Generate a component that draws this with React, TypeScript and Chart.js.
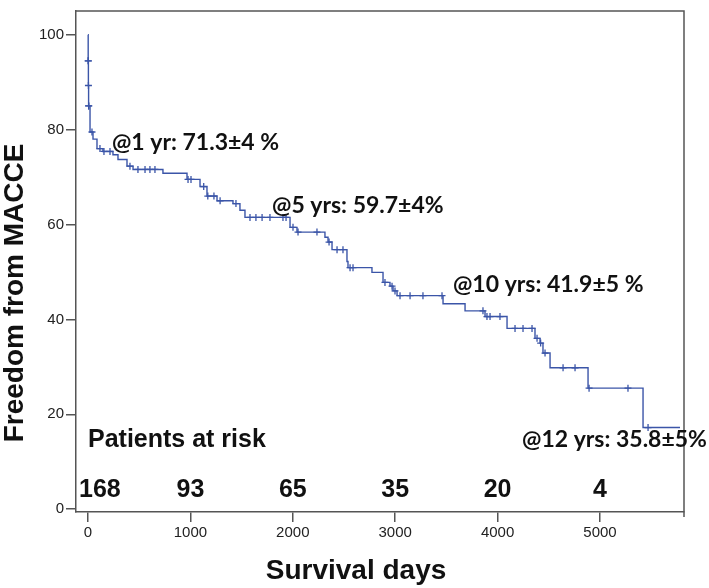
import React, { useEffect, useRef } from 'react';
import { Chart, registerables } from 'chart.js';

Chart.register(...registerables);

// Kaplan-Meier step points: day of event, survival (%) after the event
const survivalDays = [0, 2, 4, 6, 20, 49, 88, 146, 244, 293, 381, 440, 732, 967, 1094, 1162, 1260, 1416, 1484, 1533, 1973, 2041, 2314, 2344, 2383, 2529, 2539, 2773, 2881, 2949, 2979, 3018, 3467, 3682, 3877, 4092, 4365, 4414, 4443, 4512, 4883, 5420, 5781];
const survivalPct = [100, 94.5, 89.3, 85, 79.5, 78, 76, 75.4, 74.7, 73.7, 72.3, 71.6, 70.8, 69.5, 68, 66, 65, 64.4, 63, 61.5, 59.4, 58.4, 57.3, 56.3, 54.7, 52.2, 50.9, 49.9, 47.8, 47, 46, 45, 43.3, 41.8, 40.6, 38.1, 36, 35, 32.9, 29.8, 25.5, 17.2, 17.2];

// censored observations (days)
const censorDays = [2.5, 3, 4.5, 6.5, 7, 39, 117, 156, 215, 410, 488, 557, 605, 654, 977, 1006, 1130, 1170, 1230, 1290, 1445, 1582, 1640, 1700, 1777, 1904, 1934, 2002, 2051, 2236, 2354, 2432, 2490, 2559, 2588, 2900, 2969, 2998, 3047, 3145, 3271, 3457, 3857, 3896, 3926, 4023, 4170, 4248, 4336, 4385, 4420, 4463, 4639, 4756, 4893, 5273, 5469];

// axis ticks
const xTickValues = [0, 1000, 2000, 3000, 4000, 5000];
const yTickValues = [0, 20, 40, 60, 80, 100];

// numbers at risk
const riskDays = [0, 1000, 2000, 3000, 4000, 5000];
const riskCounts = [168, 93, 65, 35, 20, 4];

// annotations
const noteTexts = ['@1 yr: 71.3±4 %', '@5 yrs: 59.7±4%', '@10 yrs: 41.9±5 %', '@12 yrs: 35.8±5%'];
const noteDays = [234, 1797, 3564, 4238];
const notePcts = [75.8, 62.5, 45.8, 13.05];

const xTitle = 'Survival days';
const yTitle = 'Freedom from MACCE';
const riskTitle = 'Patients at risk';

const BLUE = '#3b55a8';
const AXIS = '#555555';

function survivalAt(t: number): number {
  let v = survivalPct[0];
  for (let i = 0; i < survivalDays.length; i++) {
    if (survivalDays[i] <= t) v = survivalPct[i];
  }
  return v;
}

const overlayPlugin = {
  id: 'overlay',
  afterDraw(chart: any) {
    const { ctx, chartArea: a } = chart;
    const xs = chart.scales.x;
    const ys = chart.scales.y;
    ctx.save();
    // frame top & right
    ctx.strokeStyle = AXIS;
    ctx.lineWidth = 1.5;
    ctx.beginPath();
    ctx.moveTo(a.left, a.top);
    ctx.lineTo(a.right, a.top);
    ctx.lineTo(a.right, a.bottom + 5);
    ctx.stroke();

    ctx.fillStyle = '#111';
    // y title
    ctx.save();
    ctx.font = 'bold 28px "Liberation Sans", Arial, sans-serif';
    ctx.translate(23, 293);
    ctx.rotate(-Math.PI / 2);
    ctx.textAlign = 'center';
    ctx.textBaseline = 'alphabetic';
    ctx.fillText(yTitle, 0, 0);
    ctx.restore();

    // x title
    ctx.font = 'bold 28px "Liberation Sans", Arial, sans-serif';
    ctx.textAlign = 'center';
    ctx.textBaseline = 'alphabetic';
    ctx.fillText(xTitle, 356, 579);

    // annotations
    ctx.font = 'bold 23px Lato, "Open Sans", sans-serif';
    ctx.textAlign = 'left';
    noteTexts.forEach((t, i) => {
      ctx.fillText(t, xs.getPixelForValue(noteDays[i]), ys.getPixelForValue(notePcts[i]));
    });

    // patients at risk
    ctx.font = 'bold 25px "Liberation Sans", Arial, sans-serif';
    ctx.textAlign = 'left';
    ctx.fillText(riskTitle, xs.getPixelForValue(0), ys.getPixelForValue(13.05));

    ctx.textAlign = 'center';
    riskCounts.forEach((n, i) => {
      const s = String(n);
      const w = ctx.measureText(s).width;
      let cx = xs.getPixelForValue(riskDays[i]);
      if (cx - w / 2 < a.left + 3) cx = a.left + 3 + w / 2;
      ctx.fillText(s, cx, ys.getPixelForValue(2.5));
    });
    ctx.restore();
  },
};

export default function App() {
  const ref = useRef<HTMLCanvasElement | null>(null);

  useEffect(() => {
    document.body.style.margin = '0';
    const canvas = ref.current;
    if (!canvas) return;
    const chart = new Chart(canvas, {
      type: 'line',
      data: {
        datasets: [
          {
            label: 'survival',
            data: survivalDays.map((d, i) => ({ x: d, y: survivalPct[i] })),
            stepped: 'before',
            borderColor: BLUE,
            borderWidth: 1.4,
            pointRadius: 0,
            fill: false,
          },
          {
            label: 'censored',
            data: censorDays.map((d) => ({ x: d, y: survivalAt(d) })),
            showLine: false,
            pointStyle: 'cross',
            pointRadius: 3.5,
            borderColor: BLUE,
            backgroundColor: BLUE,
            borderWidth: 1.3,
          },
        ],
      },
      options: {
        animation: false,
        responsive: false,
        devicePixelRatio: 1,
        layout: { padding: { left: 0, right: 25, top: 2, bottom: 0 } },
        plugins: { legend: { display: false }, tooltip: { enabled: false } },
        scales: {
          x: {
            type: 'linear',
            min: -117,
            max: 5820,
            afterFit: (s: any) => { s.height = 76; },
            afterBuildTicks: (s: any) => { s.ticks = xTickValues.map((v) => ({ value: v })); },
            ticks: {
              color: '#222',
              padding: 2,
              maxRotation: 0,
              autoSkip: false,
              callback: (v: any) => String(v),
              font: { family: '"Liberation Sans", Arial, sans-serif', size: 15 },
            },
            grid: { drawOnChartArea: false, drawTicks: true, tickLength: 10, color: AXIS, lineWidth: 1.5 },
            border: { display: true, color: AXIS, width: 1.5 },
          },
          y: {
            type: 'linear',
            min: -0.6,
            max: 105,
            afterFit: (s: any) => { s.width = 76; },
            afterBuildTicks: (s: any) => { s.ticks = yTickValues.map((v) => ({ value: v })); },
            ticks: {
              color: '#222',
              padding: 2,
              autoSkip: false,
              callback: (v: any) => String(v),
              font: { family: '"Liberation Sans", Arial, sans-serif', size: 15 },
            },
            grid: { drawOnChartArea: false, drawTicks: true, tickLength: 10, color: AXIS, lineWidth: 1.5 },
            border: { display: true, color: AXIS, width: 1.5 },
          },
        },
      },
      plugins: [overlayPlugin],
    } as any);
    return () => chart.destroy();
  }, []);

  return (
    <div style={{ width: 709, height: 588, background: '#fff' }}>
      <canvas ref={ref} width={709} height={588} style={{ width: 709, height: 588, display: 'block' }} />
    </div>
  );
}
